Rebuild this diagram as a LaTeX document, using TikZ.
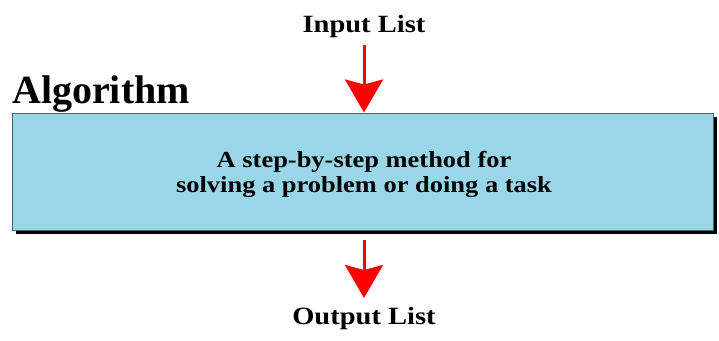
\documentclass[tikz,border=0pt]{standalone}
\usepackage{fontspec}
\setmainfont{Liberation Serif}[FakeStretch=1.15]
\newfontfamily\titlefont{Liberation Serif}
\usetikzlibrary{arrows.meta,shadows,positioning}
\definecolor{boxblue}{RGB}{152,214,232}
\definecolor{boxline}{RGB}{70,100,112}

\begin{document}
\begin{tikzpicture}[x=1pt,y=1pt,
    flow/.style={draw=red,line width=3pt,-{Stealth[length=33pt,width=38pt,inset=5pt]}},
    lbl/.style={font=\bfseries\fontsize{24.8}{28}\selectfont}]
    \useasboundingbox (0,0) rectangle (719,-340);
    % the algorithm box
    \node[draw=boxline,fill=boxblue,line width=1pt,inner sep=0pt,
      minimum width=701pt,minimum height=117pt,
      drop shadow={shadow xshift=4pt,shadow yshift=-4pt,fill=black,opacity=1}]
      (algo) at (362.5,-171.5) {};
    \node[align=center,font=\bfseries\fontsize{23}{25}\selectfont] (desc) at (364,-174) {A step-by-step method for\\solving a problem or doing a task};
    \node[anchor=base west,inner sep=0pt,font=\titlefont\bfseries\fontsize{40}{42}\selectfont] (title) at (12,-103) {Algorithm};
    % input and output
    \node[lbl,anchor=base] (in) at (364,-32) {Input List};
    \node[lbl,anchor=base] (out) at (364,-324) {Output List};
    \coordinate (instart) at (364,-45);
    \coordinate (outstart) at (364,-240);
    \draw[flow] (instart) -- (instart |- algo.north);
    \draw[flow] (outstart) -- (364,-298) coordinate (outend);
\end{tikzpicture}
\end{document}
